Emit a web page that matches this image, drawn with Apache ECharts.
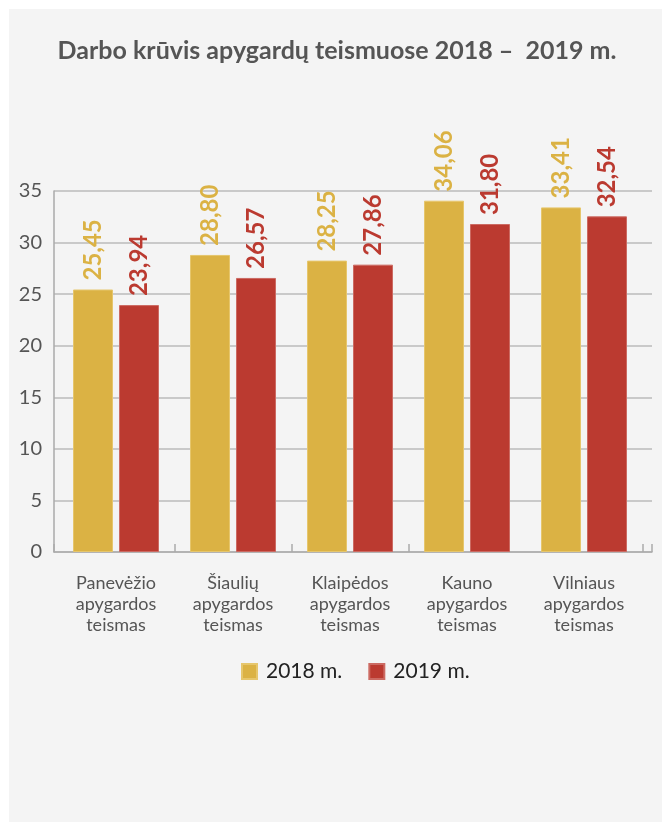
<!DOCTYPE html>
<html>
<head>
<meta charset="utf-8">
<script src="https://cdn.jsdelivr.net/npm/echarts@6/dist/echarts.min.js"></script>
<style>
html,body{margin:0;padding:0;background:#fff;}
#bg{position:absolute;left:9px;top:9px;width:653px;height:813px;background:#f4f4f4;}
#c{position:absolute;left:0;top:0;width:662px;height:822px;}
</style>
</head>
<body>
<div id="bg"></div>
<div id="c"></div>
<script>
const categories = ["Panevėžio\napygardos\nteismas", "Šiaulių\napygardos\nteismas", "Klaipėdos\napygardos\nteismas", "Kauno\napygardos\nteismas", "Vilniaus\napygardos\nteismas"];
const series2018 = [25.45, 28.80, 28.25, 34.06, 33.41];
const series2019 = [23.94, 26.57, 27.86, 31.80, 32.54];
const seriesNames = ["2018 m.", "2019 m."];
const yTicks = {min: 0, max: 35, interval: 5};
const titleText = "Darbo krūvis apygardų teismuose 2018 –  2019 m.";

const FONT = "Lato, 'Noto Sans', sans-serif";
const C18 = "#dbb244", C19 = "#bb3a30";
const fmt = p => p.value.toFixed(2).replace('.', ',');
const AX = '#aaa';

const chart = echarts.init(document.getElementById('c'), null, {renderer: 'canvas'});
chart.setOption({
  backgroundColor: 'transparent',
  animation: false,
  title: {
    text: titleText, left: 332, top: 33, textAlign: 'center',
    textStyle: {fontFamily: FONT, fontSize: 25, fontWeight: 'bold', color: '#555'}
  },
  legend: {
    data: seriesNames, top: 656, left: 236,
    itemWidth: 15, itemHeight: 15, itemGap: 26, icon: 'rect',
    textStyle: {fontFamily: FONT, fontSize: 21, color: '#222', padding: [0,0,0,4]}
  },
  grid: [
    {left: 54, right: 10, top: 191, bottom: 270, containLabel: false},
    {left: 57.5, right: 19.5, top: 191, bottom: 270, containLabel: false}
  ],
  xAxis: [
    {
      gridIndex: 0, type: 'category', data: [''],
      axisLine: {lineStyle: {color: AX, width: 1.5}},
      axisTick: {show: true, inside: true, length: 8, lineStyle: {color: AX, width: 1.5}},
      axisLabel: {show: false}
    },
    {
      gridIndex: 1, type: 'category', data: categories,
      axisLine: {show: false},
      axisTick: {show: true, inside: true, length: 8, lineStyle: {color: AX, width: 1.5},
        interval: (i) => i >= 1 && i <= 3},
      axisLabel: {fontFamily: FONT, fontSize: 18, color: '#555', lineHeight: 21, margin: 21}
    }
  ],
  yAxis: [
    {
      gridIndex: 0, type: 'value', min: yTicks.min, max: yTicks.max, interval: yTicks.interval,
      axisLine: {show: true, lineStyle: {color: AX, width: 1.5}},
      axisTick: {show: false},
      splitLine: {lineStyle: {color: '#bbb', width: 1.5}},
      axisLabel: {fontFamily: FONT, fontSize: 20, color: '#555', margin: 12}
    },
    {
      gridIndex: 1, type: 'value', min: yTicks.min, max: yTicks.max, interval: yTicks.interval,
      show: false
    }
  ],
  series: [
    {
      name: seriesNames[0], type: 'bar', xAxisIndex: 1, yAxisIndex: 1, data: series2018, barWidth: 40, barGap: '15%',
      itemStyle: {color: C18, borderColor: '#e6c66c', borderWidth: 1},
      label: {show: true, position: 'top', rotate: 90, align: 'left', verticalAlign: 'middle', distance: 9,
        formatter: fmt, fontFamily: FONT, fontSize: 24, fontWeight: 'bold', color: C18}
    },
    {
      name: seriesNames[1], type: 'bar', xAxisIndex: 1, yAxisIndex: 1, data: series2019, barWidth: 40,
      itemStyle: {color: C19, borderColor: '#cc6a62', borderWidth: 1},
      label: {show: true, position: 'top', rotate: 90, align: 'left', verticalAlign: 'middle', distance: 9,
        formatter: fmt, fontFamily: FONT, fontSize: 24, fontWeight: 'bold', color: C19}
    }
  ]
});
</script>
</body>
</html>
